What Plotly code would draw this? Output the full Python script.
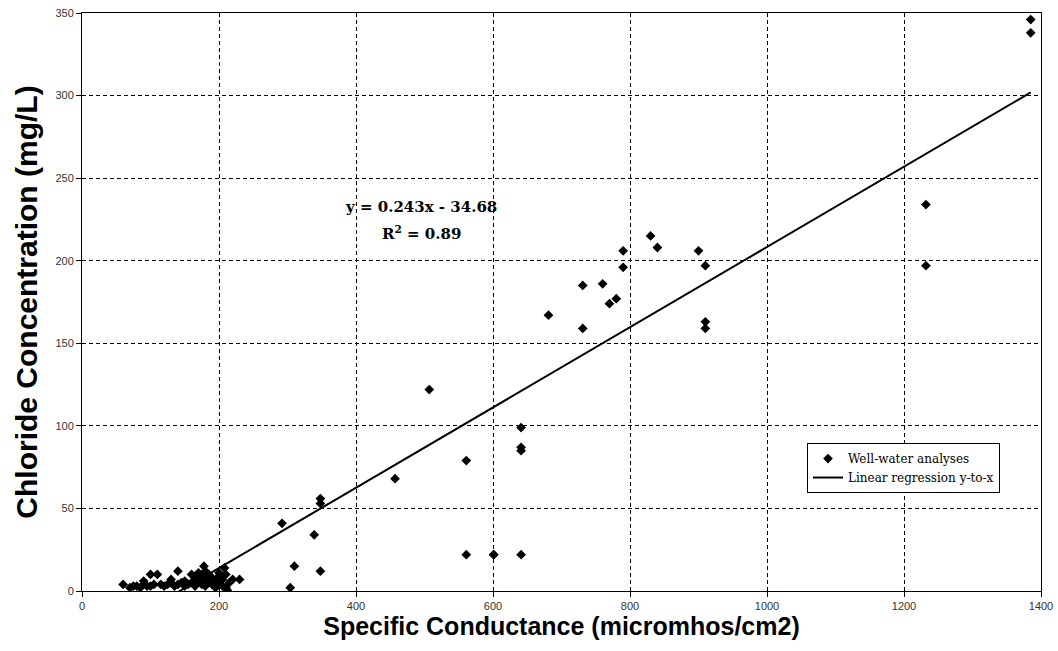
import plotly.graph_objects as go

# Well-water analyses: specific conductance (micromhos/cm2) vs chloride (mg/L)
conductance = [
    60, 70, 75, 80, 85, 90, 90, 95, 100, 100, 105, 110, 115, 120, 125, 130, 130,
    135, 140, 140, 145, 150, 150, 155, 160, 160, 165, 165, 170, 170, 175, 175,
    178, 180, 180, 180, 185, 185, 190, 190, 195, 195, 200, 200, 200, 205, 205,
    208, 210, 210, 212, 215, 220, 230,
    292, 304, 310, 339, 348, 348, 348, 457, 507, 561, 561, 601, 601,
    641, 641, 641, 641, 681, 731, 731, 760, 770, 780, 790, 790, 830, 840,
    900, 910, 910, 910, 1232, 1232, 1385, 1385,
]
chloride = [
    4, 2, 3, 3, 2, 4, 6, 3, 10, 3, 4, 10, 4, 3, 4, 5, 7,
    3, 12, 4, 5, 3, 6, 4, 5, 10, 8, 3, 6, 11, 4, 9,
    15, 12, 7, 3, 5, 10, 8, 4, 6, 2, 9, 4, 11, 3, 7,
    14, 10, 2, 0.5, 5, 7, 7,
    41, 2, 15, 34, 56, 53, 12, 68, 122, 79, 22, 22, 22,
    99, 87, 85, 22, 167, 185, 159, 186, 174, 177, 206, 196, 215, 208,
    206, 197, 163, 159, 234, 197, 346, 338,
]

# Least-squares fit reported on the chart
slope = 0.243
intercept = -34.68
r_squared = 0.89
fit_x = [min(conductance), max(conductance)]
fit_y = [slope * v + intercept for v in fit_x]

x_ticks = [0, 200, 400, 600, 800, 1000, 1200, 1400]
y_ticks = [0, 50, 100, 150, 200, 250, 300, 350]

fig = go.Figure()
fig.add_trace(go.Scatter(
    x=conductance, y=chloride, mode="markers", name="Well-water analyses",
    marker=dict(symbol="diamond", size=7.5, color="black", line=dict(width=0)),
))
fig.add_trace(go.Scatter(
    x=fit_x, y=fit_y, mode="lines", name="Linear regression y-to-x",
    line=dict(color="black", width=2),
))

# Regression equation and coefficient of determination
eq_font = dict(family="DejaVu Serif", size=15, color="black")
fig.add_annotation(
    x=0.3535, y=0.6644, xref="paper", yref="paper", showarrow=False,
    text=f"<b>y = {slope}x - {abs(intercept)}</b>", font=eq_font,
    xanchor="center", yanchor="middle",
)
fig.add_annotation(
    x=0.3535, y=0.6194, xref="paper", yref="paper", showarrow=False,
    text=f"<b>R<sup>2</sup> = {r_squared}</b>", font=eq_font,
    xanchor="center", yanchor="middle",
)

axis_common = dict(
    showline=True, linecolor="black", linewidth=1, mirror=True,
    showgrid=True, gridcolor="black", gridwidth=1, griddash="4px,3px",
    zeroline=False, ticks="outside", ticklen=5, tickcolor="black",
    automargin=False,
    tickfont=dict(family="Liberation Sans", size=11, color="#333333"),
)

fig.update_xaxes(
    range=[0, 1400], tickvals=x_ticks,
    title=dict(text="<b>Specific Conductance (micromhos/cm2)</b>",
               font=dict(family="Liberation Sans Narrow, Liberation Sans", size=25, color="black"),
               standoff=6),
    **axis_common,
)
fig.update_yaxes(
    range=[0, 350], tickvals=y_ticks,
    title=dict(text="<b>Chloride Concentration (mg/L)</b>",
               font=dict(family="Liberation Sans", size=30, color="black"),
               standoff=8),
    **axis_common,
)

fig.update_layout(
    width=1058, height=651,
    margin=dict(l=82, r=17, t=13, b=60),
    plot_bgcolor="white", paper_bgcolor="white",
    showlegend=True,
    legend=dict(
        x=0.756, y=0.256, xanchor="left", yanchor="top",
        bgcolor="white", bordercolor="black", borderwidth=1,
        font=dict(family="DejaVu Serif", size=12, color="black"),
        tracegroupgap=2,
    ),
)

fig.write_html("out.html")
